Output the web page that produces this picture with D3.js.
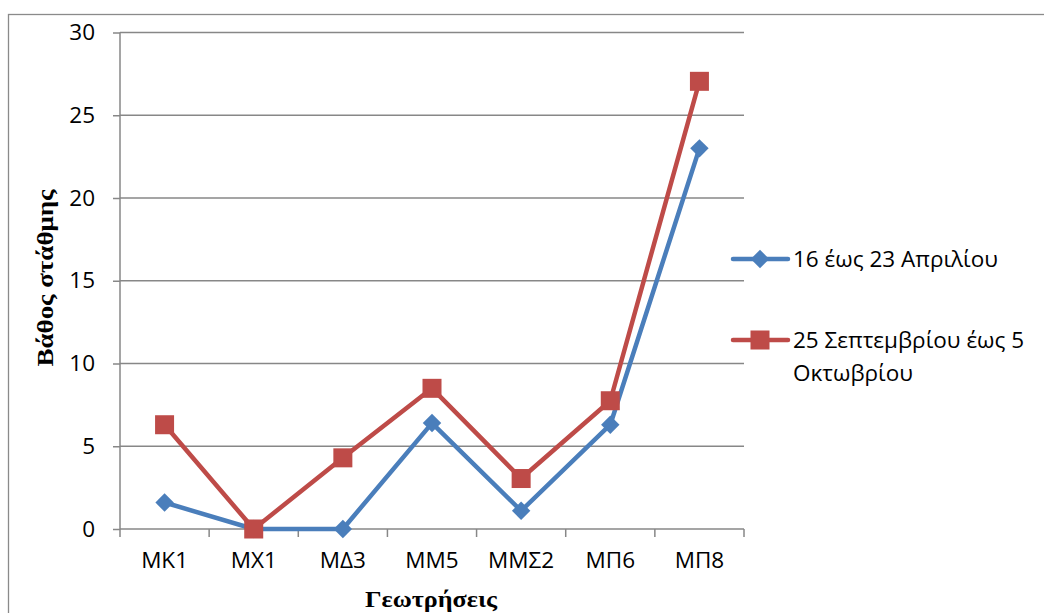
<!DOCTYPE html>
<html><head><meta charset="utf-8">
<script src="https://cdn.jsdelivr.net/npm/d3@7"></script>
<style>body{margin:0;background:#fff}</style>
</head><body>
<svg id="c" width="1044" height="613"></svg>
<script>
const categories = ["ΜΚ1","ΜΧ1","ΜΔ3","ΜΜ5","ΜΜΣ2","ΜΠ6","ΜΠ8"];
const aprilValues = [1.6, 0, 0, 6.4, 1.1, 6.3, 23.0];
const septValues = [6.3, 0, 4.3, 8.5, 3.05, 7.75, 27.05];
const yTicks = [0,5,10,15,20,25,30];
const seriesNames = ["16 έως 23 Απριλίου", "25 Σεπτεμβρίου έως 5 Οκτωβρίου"];

const svg = d3.select("#c");
const tickFont = "'Open Sans', Lato, sans-serif";
const fs = 22.5;
const grid = "#878787";

svg.append("rect").attr("x",8.5).attr("y",14.5).attr("width",1100).attr("height",700)
  .attr("fill","none").attr("stroke","#8a8a8a").attr("stroke-width",1.3);

const L=120, R=744, T=32.5, B=529;
const x = d3.scaleBand().domain(categories).range([L,R]).padding(0);
const y = d3.scaleLinear().domain([0,30]).range([B,T]);

svg.append("g").selectAll("line").data(yTicks.filter(d=>d>0)).join("line")
  .attr("x1",L).attr("x2",R).attr("y1",d=>y(d)).attr("y2",d=>y(d))
  .attr("stroke",grid).attr("stroke-width",1.5);

const ya = svg.append("g").attr("transform",`translate(${L},0)`)
  .call(d3.axisLeft(y).tickValues(yTicks).tickSize(7).tickPadding(18));
ya.select(".domain").attr("stroke",grid).attr("stroke-width",1.5).attr("d",`M0,${T}V${B}`);
ya.selectAll(".tick line").attr("stroke",grid).attr("stroke-width",1.5);
ya.selectAll("text").attr("font-family",tickFont).attr("font-size",fs).attr("fill","#000");

const xa = svg.append("g").attr("transform",`translate(0,${B})`)
  .call(d3.axisBottom(x).tickSize(0).tickPadding(23));
xa.select(".domain").attr("stroke",grid).attr("stroke-width",1.5).attr("d",`M${L},0H${R}`);
xa.selectAll("text").attr("font-family",tickFont).attr("font-size",fs).attr("fill","#000");
const bounds = categories.map(c=>x(c)).concat([R]);
xa.append("g").selectAll("line").data(bounds).join("line")
  .attr("x1",d=>d).attr("x2",d=>d).attr("y1",0).attr("y2",8)
  .attr("stroke",grid).attr("stroke-width",1.5);

const cx = c => x(c)+x.bandwidth()/2;
const line = d3.line().x((d,i)=>cx(categories[i])).y(d=>y(d));

const blue="#4A7EBB", red="#BE4B48";
svg.append("path").datum(aprilValues).attr("d",line).attr("fill","none")
  .attr("stroke",blue).attr("stroke-width",4.5).attr("stroke-linejoin","round");
svg.append("path").datum(septValues).attr("d",line).attr("fill","none")
  .attr("stroke",red).attr("stroke-width",4.5).attr("stroke-linejoin","round");

const diamond = d3.symbol().type(d3.symbolSquare).size(170);
svg.append("g").selectAll("path").data(aprilValues).join("path")
  .attr("d",diamond())
  .attr("transform",(d,i)=>`translate(${cx(categories[i])},${y(d)}) rotate(45)`)
  .attr("fill",blue);
svg.append("g").selectAll("rect").data(septValues).join("rect")
  .attr("x",(d,i)=>cx(categories[i])-9.5).attr("y",d=>y(d)-9.5)
  .attr("width",19).attr("height",19).attr("fill",red);

const serif = "'Liberation Serif','Times New Roman',serif";
svg.append("text").attr("transform","translate(53,278) rotate(-90)")
  .attr("text-anchor","middle").attr("font-family",serif)
  .attr("font-weight","bold").attr("font-size",23)
  .attr("textLength",177).attr("lengthAdjust","spacingAndGlyphs").text("Βάθος στάθμης");
svg.append("text").attr("x",431).attr("y",607)
  .attr("text-anchor","middle").attr("font-family",serif)
  .attr("font-weight","bold").attr("font-size",23)
  .attr("textLength",132).attr("lengthAdjust","spacingAndGlyphs").text("Γεωτρήσεις");

const lg = svg.append("g");
lg.append("line").attr("x1",733).attr("x2",788).attr("y1",259).attr("y2",259)
  .attr("stroke",blue).attr("stroke-width",4.5).attr("stroke-linecap","round");
lg.append("path").attr("d",diamond()).attr("transform","translate(760,259) rotate(45)").attr("fill",blue);
lg.append("text").attr("x",793).attr("y",267).attr("font-family",tickFont).attr("font-size",fs).text(seriesNames[0]);
lg.append("line").attr("x1",733).attr("x2",788).attr("y1",340).attr("y2",340)
  .attr("stroke",red).attr("stroke-width",4.5).attr("stroke-linecap","round");
lg.append("rect").attr("x",750.5).attr("y",330.5).attr("width",19).attr("height",19).attr("fill",red);
const t2 = lg.append("text").attr("font-family",tickFont).attr("font-size",fs);
t2.append("tspan").attr("x",793).attr("y",348).text("25 Σεπτεμβρίου έως 5");
t2.append("tspan").attr("x",793).attr("y",381).text("Οκτωβρίου");
</script>
</body></html>
